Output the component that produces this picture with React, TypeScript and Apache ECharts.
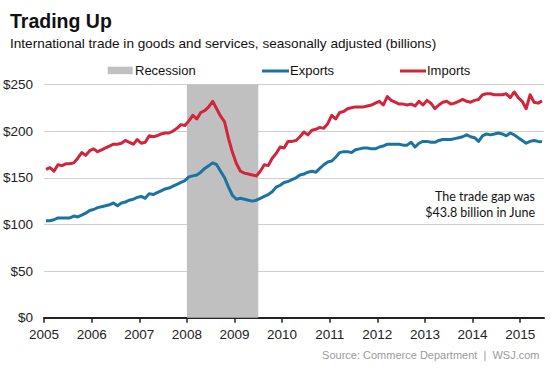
import React, { useEffect, useRef } from "react";
import * as echarts from "echarts";

const START_YEAR = 2005;
const yearTicks = [2005, 2006, 2007, 2008, 2009, 2010, 2011, 2012, 2013, 2014, 2015];
const yTicks = [0, 50, 100, 150, 200, 250];
const recession = [2008.0, 2009.5];

// Monthly values, Jan 2005 – Jun 2015 (billions of dollars)
const exports2005_2009 = [
  104, 104, 105, 107, 107, 107, 107, 109, 108, 110, 112, 115,
  116, 118, 119, 120, 121, 123, 120, 123, 124, 126, 127, 129,
  130, 128, 133, 132, 134, 136, 138, 139, 141, 143, 145, 147,
  151, 152, 153, 156, 160, 163, 166, 164, 157, 150, 140, 131,
  127, 128, 127, 126, 125, 126, 128, 130, 132, 135, 140, 142,
];
const exports2010_2015 = [
  145, 146, 148, 150, 153, 154, 156, 157, 156, 160, 164, 167,
  168, 172, 177, 178, 178, 177, 180, 181, 182, 182, 181, 181,
  183, 184, 186, 186, 186, 186, 185, 185, 188, 183, 187, 189,
  189, 188, 188, 190, 191, 191, 191, 192, 193, 194, 196, 194,
  193, 189, 195, 197, 196, 197, 198, 197, 195, 198, 196, 193,
  190, 187, 189, 190, 189, 188.6,
];
const imports2005_2009 = [
  159, 161, 157, 164, 163, 165, 165, 166, 171, 177, 174, 179,
  181, 178, 180, 182, 184, 186, 186, 187, 190, 188, 186, 191,
  187, 188, 195, 194, 195, 197, 198, 198, 200, 203, 207, 206,
  211, 217, 213, 220, 222, 226, 232, 224, 216, 210, 192, 177,
  165, 157, 155, 154, 153, 152, 157, 164, 163, 171, 176, 183,
];
const imports2010_2015 = [
  182, 189, 189, 190, 194, 199, 196, 201, 202, 204, 203, 208,
  217, 213, 220, 221, 224, 225, 226, 226, 226, 227, 228, 230,
  232, 228, 237, 233, 231, 229, 229, 228, 229, 227, 232, 228,
  233, 230, 224, 228, 231, 232, 229, 230, 232, 234, 232, 231,
  233, 234, 239, 240, 240, 239, 239, 239, 240, 236, 242, 236,
  232, 224, 239, 231, 230, 232.4,
];
const exportsValues = [...exports2005_2009, ...exports2010_2015];
const importsValues = [...imports2005_2009, ...imports2010_2015];

const BLUE = "#1b74a0";
const RED = "#d2243b";
const GRAY = "#c0c0c0";
const FONT = "'Liberation Sans', Arial, sans-serif";
const NOTE_FONT = "Lato, 'Open Sans', sans-serif";

const toPoints = (vals: number[]) =>
  vals.map((v, i) => [START_YEAR + (i + 0.5) / 12, v]);

export default function App() {
  const ref = useRef<HTMLDivElement>(null);
  useEffect(() => {
    if (!ref.current) return;
    const chart = echarts.init(ref.current, null, { renderer: "svg" });
    chart.setOption({
      animation: false,
      backgroundColor: "#ffffff",
      textStyle: { fontFamily: FONT },
      grid: { left: 43.3, right: 9, top: 84.5, bottom: 51.3, containLabel: false },
      xAxis: {
        type: "value",
        min: 2005,
        max: 2015.5,
        interval: 1,
        axisLine: { show: true, lineStyle: { color: "#222", width: 2 } },
        axisTick: {
          show: true,
          customValues: yearTicks,
          length: 5,
          lineStyle: { color: "#222", width: 1.5 },
        },
        axisLabel: {
          customValues: yearTicks,
          formatter: (v: number) => (Number.isInteger(v) ? String(v) : ""),
          color: "#222",
          fontSize: 13.5,
          fontFamily: FONT,
          margin: 10,
        },
        splitLine: { show: false },
      },
      yAxis: {
        type: "value",
        min: yTicks[0],
        max: yTicks[yTicks.length - 1],
        interval: 50,
        axisLine: { show: false },
        axisTick: { show: false },
        axisLabel: {
          formatter: (v: number) => "$" + v,
          color: "#222",
          fontSize: 13.5,
          fontFamily: FONT,
          margin: 11,
        },
        splitLine: { show: true, lineStyle: { color: "#cfcfcf", width: 1.2 } },
      },
      series: [
        {
          name: "Recession",
          type: "line",
          data: [],
          z: 1,
          silent: true,
          markArea: {
            silent: true,
            itemStyle: { color: GRAY, opacity: 1 },
            data: [[{ xAxis: recession[0] }, { xAxis: recession[1] }]],
          },
        },
        {
          name: "Exports",
          type: "line",
          data: toPoints(exportsValues),
          showSymbol: false,
          symbol: "none",
          z: 3,
          lineStyle: { color: BLUE, width: 3, join: "round" },
          itemStyle: { color: BLUE },
        },
        {
          name: "Imports",
          type: "line",
          data: toPoints(importsValues),
          showSymbol: false,
          symbol: "none",
          z: 3,
          lineStyle: { color: RED, width: 3, join: "round" },
          itemStyle: { color: RED },
        },
      ],
      graphic: [
        {
          type: "text",
          x: 10,
          y: 20.5,
          style: {
            text: "Trading Up",
            fontSize: 19.5,
            fontWeight: "bold",
            fontFamily: FONT,
            fill: "#111",
            verticalAlign: "middle",
          },
        },
        {
          type: "text",
          x: 10,
          y: 43,
          style: {
            text: "International trade in goods and services, seasonally adjusted (billions)",
            fontSize: 13.6,
            fontFamily: FONT,
            fill: "#111",
            verticalAlign: "middle",
          },
        },
        {
          type: "rect",
          shape: { x: 107.7, y: 66.7, width: 25, height: 7.5 },
          style: { fill: GRAY },
        },
        {
          type: "text",
          x: 135,
          y: 70.5,
          style: { text: "Recession", fontSize: 13, fontFamily: FONT, fill: "#111", verticalAlign: "middle" },
        },
        {
          type: "line",
          shape: { x1: 262, y1: 71, x2: 289, y2: 71 },
          style: { stroke: BLUE, lineWidth: 3 },
        },
        {
          type: "text",
          x: 290,
          y: 70.5,
          style: { text: "Exports", fontSize: 13, fontFamily: FONT, fill: "#111", verticalAlign: "middle" },
        },
        {
          type: "line",
          shape: { x1: 400, y1: 71, x2: 426, y2: 71 },
          style: { stroke: RED, lineWidth: 3 },
        },
        {
          type: "text",
          x: 427,
          y: 70.5,
          style: { text: "Imports", fontSize: 13, fontFamily: FONT, fill: "#111", verticalAlign: "middle" },
        },
        {
          type: "text",
          x: 535,
          y: 196,
          style: {
            text: "The trade gap was",
            fontSize: 12.5,
            fontFamily: NOTE_FONT,
            fill: "#111",
            align: "right",
            verticalAlign: "middle",
          },
        },
        {
          type: "text",
          x: 535,
          y: 212.5,
          style: {
            text: "$43.8 billion in June",
            fontSize: 12.5,
            fontFamily: NOTE_FONT,
            fill: "#111",
            align: "right",
            verticalAlign: "middle",
          },
        },
        {
          type: "text",
          x: 539.5,
          y: 355,
          style: {
            text: "Source: Commerce Department  |  WSJ.com",
            fontSize: 11,
            fontFamily: FONT,
            fill: "#9a9a9a",
            align: "right",
            verticalAlign: "middle",
          },
        },
      ],
    });
    return () => chart.dispose();
  }, []);
  return (
    <div
      ref={ref}
      style={{ position: "absolute", left: 0, top: 0, width: 553, height: 369 }}
    />
  );
}
